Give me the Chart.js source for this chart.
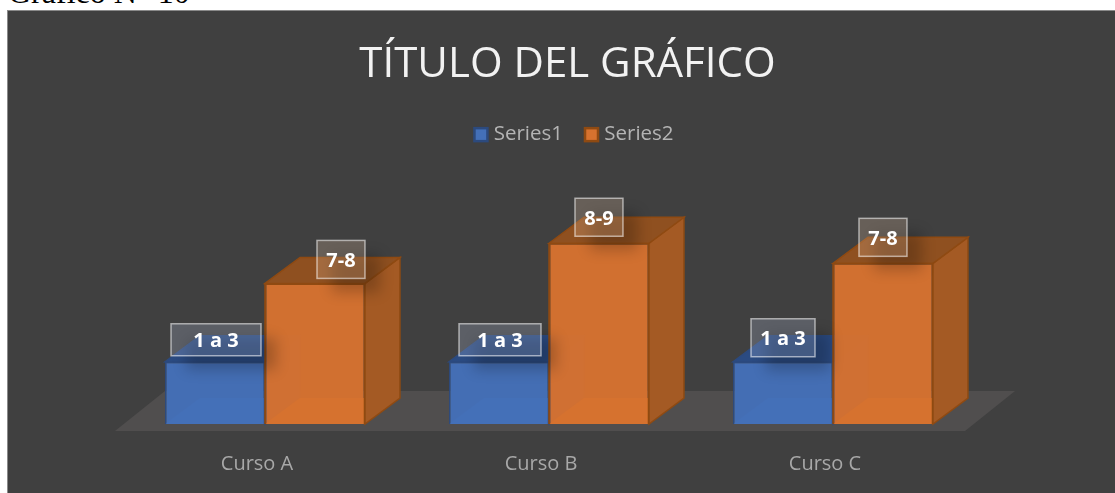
<!DOCTYPE html>
<html>
<head>
<meta charset="utf-8">
<style>
  html, body { margin: 0; padding: 0; width: 1115px; height: 493px; overflow: hidden; background: #fff; }
  #caption { position: absolute; left: 8px; top: -24px; font: 32px/32px "Liberation Serif", serif; color: #000; white-space: nowrap; }
  #panel { position: absolute; left: 7px; top: 10px; width: 1108px; height: 483px; box-sizing: border-box; background: #404040; border: 1px solid #8a8a8a; border-width: 1px 0 0 1px; }
  #chart { position: absolute; left: 0; top: 0; }
</style>
<script src="https://cdn.jsdelivr.net/npm/chart.js@4"></script>
</head>
<body>
<div id="caption">Gráfico N° 10</div>
<div id="panel"></div>
<canvas id="chart" width="1115" height="493"></canvas>
<script>
const categories = ["Curso A", "Curso B", "Curso C"];
const series1Values = [3.1, 3.1, 3.1];
const series2Values = [7, 9, 8];
const series1Labels = ["1 a 3", "1 a 3", "1 a 3"];
const series2Labels = ["7-8", "8-9", "7-8"];

// the hand placed label boxes of the original: [dx, dy, width, height] from the bar top
const series1Boxes = [[1, -22, 90, 32], [1, -22, 82, 32], [0, -24, 64, 38]];
const series2Boxes = [[26, -24, 48, 38], [0, -26, 48, 38], [0, -26, 48, 38]];

const DEPTH_X = 35;
const DEPTH_Y = 26;
const LEGEND_SHIFT = 7;

const faces = [
  { front: "rgba(68,112,184,0.97)", solid: "#4470b8", top: "#2b4b82", side: "#2f5290", back: "#4a74b4", line: "#2c4a7e" },
  { front: "rgba(214,114,47,0.97)", solid: "#d6722f", top: "#8f5020", side: "#a45a24", back: "#dc782c", line: "#8f4a12" },
];

function poly(ctx, pts, fill, stroke) {
  ctx.beginPath();
  pts.forEach((p, i) => (i ? ctx.lineTo(p[0], p[1]) : ctx.moveTo(p[0], p[1])));
  ctx.closePath();
  if (fill) {
    ctx.fillStyle = fill;
    ctx.fill();
  }
  if (stroke) {
    ctx.strokeStyle = stroke;
    ctx.lineWidth = 1.5;
    ctx.stroke();
  }
}

// floor and the three receding faces of each bar, behind the library's bars
const boxes3d = {
  id: "boxes3d",
  afterLayout(chart) {
    // legend sits a little right of the title in the original
    chart.legend.left += LEGEND_SHIFT;
    chart.legend.right += LEGEND_SHIFT;
  },
  beforeDatasetsDraw(chart) {
    const { ctx, chartArea: a } = chart;
    const fl = a.bottom + 7;
    poly(ctx, [[a.left - 8, fl], [a.right - 10, fl], [a.right + 40, fl - 40], [a.left + 42, fl - 40]], "#504e4e");
    [0, 1].forEach((d) => {
      const f = faces[d];
      chart.getDatasetMeta(d).data.forEach((bar) => {
        const l = bar.x - bar.width / 2;
        const r = bar.x + bar.width / 2;
        const t = bar.y;
        const b = bar.base;
        poly(ctx, [[l, b], [r, b], [r + DEPTH_X, b - DEPTH_Y], [l + DEPTH_X, b - DEPTH_Y]], f.back);
        poly(ctx, [[r, t], [r + DEPTH_X, t - DEPTH_Y], [r + DEPTH_X, b - DEPTH_Y], [r, b]], f.side, f.line);
        poly(ctx, [[l, t], [l + DEPTH_X, t - DEPTH_Y], [r + DEPTH_X, t - DEPTH_Y], [r, t]], f.top, f.line);
      });
    });
  },
  afterDatasetsDraw(chart) {
    const { ctx } = chart;
    // seam between the two bars belongs to the orange one
    chart.getDatasetMeta(1).data.forEach((bar) => {
      const l = bar.x - bar.width / 2;
      ctx.beginPath();
      ctx.moveTo(l, bar.y);
      ctx.lineTo(l, bar.base);
      ctx.strokeStyle = faces[1].line;
      ctx.lineWidth = 1.5;
      ctx.stroke();
    });
    drawLabels(chart, 0, series1Labels, series1Boxes, "rgba(190,205,235,0.22)");
    drawLabels(chart, 1, series2Labels, series2Boxes, "rgba(240,205,175,0.22)");
  },
  afterDraw(chart) {
    // legend swatches: the library leaves too wide a gap before the text
    const { ctx, legend } = chart;
    legend.legendHitBoxes.forEach((h, i) => {
      const cy = h.top + h.height / 2;
      ctx.fillStyle = faces[i].solid;
      ctx.strokeStyle = faces[i].line;
      ctx.lineWidth = 2.5;
      ctx.fillRect(h.left + LEGEND_SHIFT - 8, cy - 6.5, 13, 13);
      ctx.strokeRect(h.left + LEGEND_SHIFT - 8, cy - 6.5, 13, 13);
    });
  },
};

function drawLabels(chart, d, texts, boxes, fill) {
  const { ctx } = chart;
  chart.getDatasetMeta(d).data.forEach((bar, i) => {
    const [dx, dy, w, h] = boxes[i];
    const x = bar.x + dx - w / 2;
    const y = bar.y + dy - h / 2;
    // soft shadow only, the box itself is thrown off canvas
    ctx.save();
    ctx.shadowColor = "rgba(0,0,0,0.22)";
    ctx.shadowBlur = 14;
    ctx.shadowOffsetX = 2015;
    ctx.shadowOffsetY = 14;
    ctx.fillStyle = "#000";
    ctx.fillRect(x - 2000, y, w, h);
    ctx.restore();
    ctx.fillStyle = fill;
    ctx.fillRect(x, y, w, h);
    ctx.strokeStyle = "rgba(255,255,255,0.55)";
    ctx.lineWidth = 1.5;
    ctx.strokeRect(x, y, w, h);
    ctx.fillStyle = "#fff";
    ctx.font = 'bold 20px "Open Sans"';
    ctx.textAlign = "center";
    ctx.textBaseline = "middle";
    ctx.fillText(texts[i], x + w / 2, y + h / 2 + 2);
  });
}

new Chart(document.getElementById("chart"), {
  type: "bar",
  data: {
    labels: categories,
    datasets: [
      {
        label: "Series1",
        data: series1Values,
        backgroundColor: faces[0].front,
        borderColor: faces[0].line,
        borderWidth: 1.5,
      },
      {
        label: "Series2",
        data: series2Values,
        backgroundColor: faces[1].front,
        borderColor: faces[1].line,
        borderWidth: 1.5,
      },
    ],
  },
  plugins: [boxes3d],
  options: {
    responsive: false,
    animation: false,
    layout: { padding: { left: 20, right: 0, top: 0, bottom: 0 } },
    datasets: { bar: { categoryPercentage: 0.704, barPercentage: 1 } },
    plugins: {
      tooltip: { enabled: false },
      title: {
        display: true,
        text: "TÍTULO DEL GRÁFICO",
        color: "#f2f2f2",
        font: { family: "Open Sans", size: 42, weight: "normal" },
        padding: { top: 40, bottom: 11 },
      },
      legend: {
        position: "top",
        labels: {
          color: "#b4b4b4",
          font: { family: "Open Sans", size: 20.5 },
          boxWidth: 8,
          boxHeight: 8,
          padding: 23,
          generateLabels: (chart) =>
            Chart.defaults.plugins.legend.labels.generateLabels(chart).map((item) => ({
              ...item,
              fillStyle: "transparent",
              strokeStyle: "transparent",
              lineWidth: 0,
            })),
        },
      },
    },
    scales: {
      x: {
        grid: { display: false },
        border: { display: false },
        afterFit: (s) => { s.height = 69; },
        ticks: {
          color: "#a8a8a8",
          font: { family: "Open Sans", size: 20 },
          padding: 20,
          labelOffset: -8,
          maxRotation: 0,
        },
      },
      y: {
        min: 0,
        max: 13.4,
        grid: { display: false },
        border: { display: false },
        ticks: { display: false },
        afterFit: (s) => { s.width = 103; },
      },
      y2: {
        position: "right",
        grid: { display: false },
        border: { display: false },
        ticks: { display: false },
        afterFit: (s) => { s.width = 140; },
      },
    },
  },
});
</script>
</body>
</html>
